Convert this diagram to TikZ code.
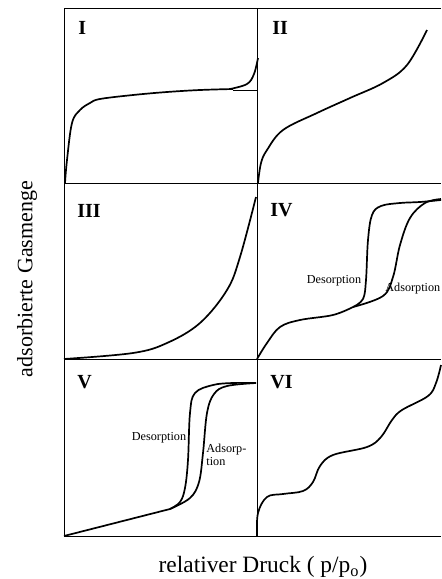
\documentclass[tikz,border=0pt]{standalone}
\usepackage{fontspec}
\setmainfont{Liberation Serif}
\usetikzlibrary{positioning}

\tikzset{
  frame/.style={line width=0.5pt},
  curve/.style={line width=0.85pt},
  roman/.style={font=\fontsize{10}{11}\selectfont\bfseries,anchor=west,inner sep=0pt},
  branch/.style={font=\fontsize{6.1}{6.5}\selectfont,inner sep=0pt},
  axis/.style={font=\fontsize{11}{13}\selectfont}
}

\begin{document}
\begin{tikzpicture}[x=0.5pt,y=-0.5pt]
      \useasboundingbox (0,0) rectangle (441,579);

      % frame of the six panels
      \draw [frame] (441,8) -- (64,8) -- (64,536) -- (441,536);
      \draw [frame] (257,8) -- (257,536);
      \draw [frame] (64,183) -- (441,183);
      \draw [frame] (64,359) -- (441,359);

      % I
      \draw [curve] plot [smooth,tension=0.6] coordinates {(65,183) (67,160) (72,123) (80,110) (90,103) (100,99) (133,95) (167,92) (200,90) (233,89)};
      \draw [frame] (233,90) -- (257,90);
      \draw [curve] plot [smooth,tension=0.6] coordinates {(230,89) (247,84) (254,74) (258,58)};

      % II
      \draw [curve] plot [smooth,tension=0.6] coordinates {(258,183) (261,163) (267,150) (283,130) (317,113) (350,98) (383,83) (407,65) (427,30)};

      % III
      \draw [curve] plot [smooth,tension=0.6] coordinates {(64,359) (133,353) (167,343) (200,323) (227,290) (240,257) (256,197)};

      % IV
      \draw [curve] plot [smooth,tension=0.6] coordinates {(257,359) (267,343) (280,327) (300,320) (333,315) (353,307)};
      \draw [curve] plot [smooth,tension=0.6] coordinates {(353,307) (363,299) (366,280) (368,240) (372,215) (381,206) (400,203) (420,202) (441,200)};
      \draw [curve] plot [smooth,tension=0.6] coordinates {(353,307) (383,296) (393,277) (400,245) (410,218) (425,203) (441,199)};

      % V
      \draw [curve] (64,536) -- (170,509);
      \draw [curve] plot [smooth,tension=0.6] coordinates {(170,509) (180,502) (185,488) (188,460) (190,413) (195,393) (213,385) (233,383) (256,383)};
      \draw [curve] plot [smooth,tension=0.6] coordinates {(170,509) (190,498) (199,482) (203,453) (207,413) (214,394) (227,386) (256,383)};

      % VI
      \draw [curve] plot [smooth,tension=0.6] coordinates {(257,536) (258,513) (267,497) (283,494) (303,491) (313,482) (320,466) (333,455) (367,447) (381,437) (392,420) (402,410) (428,396) (436,383) (441,365)};

      % labels
      \node [roman] (nI) at (78,28) {I};
      \node [roman] (nII) at (272,28) {II};
      \node [roman] (nIII) at (77,211) {III};
      \node [roman] (nIV) at (270,210) {IV};
      \node [roman] (nV) at (77,382) {V};
      \node [roman] (nVI) at (270,382) {VI};

      \node [branch] (desIV) at (334,281) {Desorption};
      \node [branch,anchor=west] (adsIV) at (385,289) {Adsorption};
      \node [branch] (desV) at (159,438) {Desorption};
      \node [branch,anchor=north west,align=left] (adsV) at (206,444) {Adsorp-\\tion};

      \node [axis,font=\fontsize{11.7}{13}\selectfont] (xlabel) at (263,567) {relativer Druck ( p/p$_\mathrm{o}$)};
      \node [axis,rotate=90] (ylabel) at (27,279) {adsorbierte Gasmenge};
\end{tikzpicture}
\end{document}
